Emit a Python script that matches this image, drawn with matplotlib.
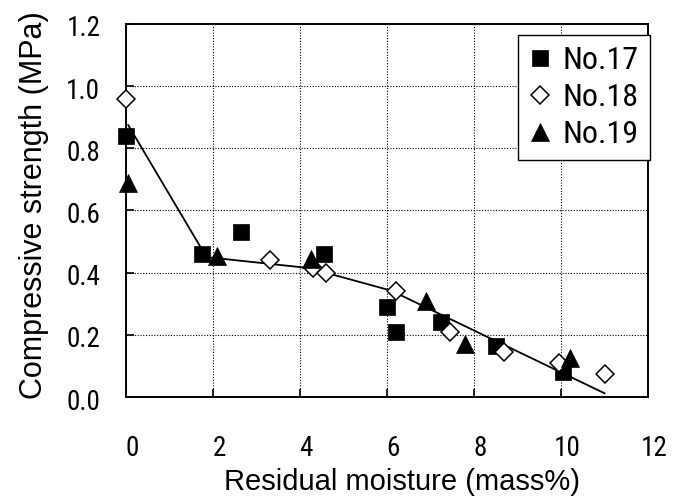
import matplotlib
matplotlib.use("Agg")
import matplotlib.pyplot as plt
import matplotlib.transforms as mtransforms

# ---- data ----
no17_x = [0.0, 1.75, 2.65, 4.55, 6.0, 6.2, 7.25, 8.5, 10.05]
no17_y = [0.84, 0.46, 0.53, 0.46, 0.29, 0.21, 0.24, 0.165, 0.08]

no18_x = [0.0, 3.3, 4.3, 4.6, 6.2, 7.45, 8.7, 9.95, 11.0]
no18_y = [0.96, 0.44, 0.415, 0.40, 0.34, 0.21, 0.145, 0.11, 0.075]

no19_x = [0.05, 2.1, 4.25, 6.9, 7.8, 10.2]
no19_y = [0.69, 0.454, 0.444, 0.308, 0.17, 0.124]

fit_x = [0.05, 1.85, 4.2, 6.1, 11.0]
fit_y = [0.875, 0.45, 0.415, 0.342, 0.012]

x_ticks = [0, 2, 4, 6, 8, 10, 12]
y_ticks = [0.0, 0.2, 0.4, 0.6, 0.8, 1.0, 1.2]
y_tick_labels = ["0.0", "0.2", "0.4", "0.6", "0.8", "1.0", "1.2"]
series_labels = ["No.17", "No.18", "No.19"]

tick_font = ["Roboto Condensed", "Liberation Sans", "DejaVu Sans"]
label_font = ["Liberation Sans", "DejaVu Sans"]

fig = plt.figure(figsize=(6.74, 4.96), dpi=100)
ax = fig.add_axes([126 / 674, 1 - 397 / 496, (648 - 126) / 674, (397 - 24) / 496])

ax.plot(fit_x, fit_y, color="black", lw=1.3, zorder=2)
ax.plot(no17_x, no17_y, ls="none", marker="s", ms=12, mfc="black", mec="black",
        mew=0.5, label=series_labels[0], zorder=3, clip_on=False)
ax.plot(no18_x, no18_y, ls="none", marker="D", ms=9, mfc="white", mec="black",
        mew=1.1, label=series_labels[1], zorder=4, clip_on=False)
ax.plot(no19_x, no19_y, ls="none", marker="^", ms=13, mfc="black", mec="black",
        mew=0.5, label=series_labels[2], zorder=5, clip_on=False)

ax.set_xlim(0, 12)
ax.set_ylim(0, 1.2)
ax.set_xticks(x_ticks)
ax.set_yticks(y_ticks)
ax.set_yticklabels(y_tick_labels)

ax.grid(True, color="black", linestyle=(0, (1, 1.5)), linewidth=0.8)
ax.set_axisbelow(True)

for sp in ax.spines.values():
    sp.set_linewidth(1.4)
    sp.set_color("black")

ax.tick_params(axis="x", direction="in", length=6, width=1.2, pad=27, labelsize=19.5)
ax.tick_params(axis="y", direction="in", length=6, width=1.2, pad=18.5, labelsize=19.5)
for lab in ax.get_xticklabels() + ax.get_yticklabels():
    lab.set_fontfamily(tick_font)

off_x = mtransforms.ScaledTranslation(6 / 100, 0, fig.dpi_scale_trans)
for lab in ax.get_xticklabels():
    lab.set_transform(lab.get_transform() + off_x)
off_y = mtransforms.ScaledTranslation(0, -2 / 100, fig.dpi_scale_trans)
for lab in ax.get_yticklabels():
    lab.set_transform(lab.get_transform() + off_y)

ax.set_xlabel("Residual moisture (mass%)", fontsize=21, family=label_font, va="baseline")
ax.xaxis.set_label_coords((402 - 126) / 522, (397 - 490) / 373)
ax.set_ylabel("Compressive strength (MPa)", fontsize=22, family=label_font, va="baseline")
ax.yaxis.set_label_coords((42 - 126) / 522, (397 - 205) / 373)

leg = ax.legend(loc="upper right", bbox_to_anchor=(650 / 674, 1 - 35 / 496),
                bbox_transform=fig.transFigure, borderaxespad=0,
                prop={"family": tick_font, "size": 23}, frameon=True, fancybox=False,
                edgecolor="black", framealpha=1, handlelength=0.7, handletextpad=0.35,
                labelspacing=0.25, borderpad=0.35, numpoints=1)
leg.get_frame().set_linewidth(1.0)
leg.set_zorder(10)

fig.savefig("out.png", dpi=100)
